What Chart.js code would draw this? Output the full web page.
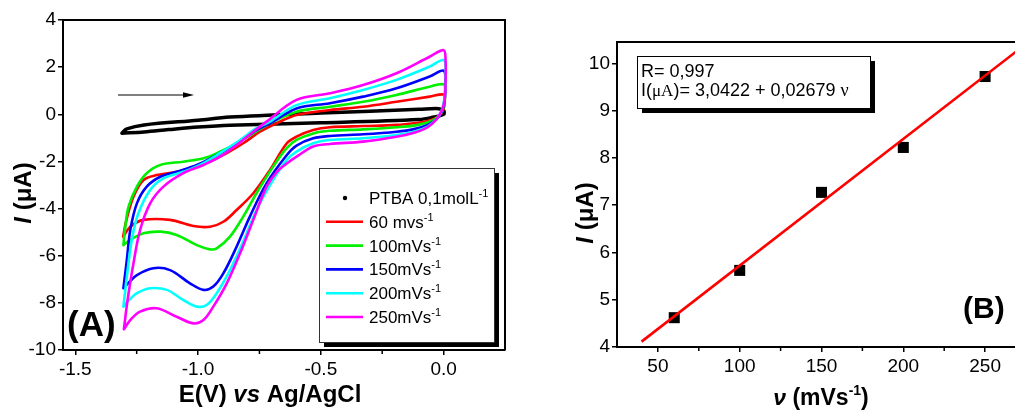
<!DOCTYPE html>
<html>
<head>
<meta charset="utf-8">
<title>PTBA voltammetry</title>
<script src="https://cdn.jsdelivr.net/npm/chart.js@4.4.1/dist/chart.umd.min.js"></script>
<style>
  html, body { margin: 0; padding: 0; background: #fff; }
  #wrap { position: relative; width: 1015px; height: 410px; overflow: hidden; background: #fff; }
  canvas { position: absolute; top: 0; }
  #cvA { left: 0; }
  #cvB { left: 540px; }
</style>
</head>
<body>
<div id="wrap">
  <canvas id="cvA" width="540" height="410" style="width:540px;height:410px"></canvas>
  <canvas id="cvB" width="500" height="410" style="width:500px;height:410px"></canvas>
</div>
<script>
// ---------- Panel A: cyclic voltammograms, points [E (V vs Ag/AgCl), I (uA)] around each closed loop
const cvBlank = [[-1.31,-0.80],[-1.29,-0.62],[-1.22,-0.45],[-1.0,-0.25],[-0.87,-0.12],[-0.5,0.05],[-0.1,0.21],[-0.02,0.24],
  [0.0,0.16],[0.0,0.0],[-0.05,-0.14],[-0.1,-0.22],[-0.5,-0.36],[-0.87,-0.46],[-1.0,-0.54],[-1.12,-0.65],[-1.22,-0.75],[-1.31,-0.80]];
const cv60 = [[-1.305,-5.19],[-1.292,-4.50],[-1.263,-3.50],[-1.222,-2.79],[-1.168,-2.58],[-1.087,-2.44],[-1.005,-2.22],[-0.951,-2.01],
  [-0.883,-1.65],[-0.816,-1.23],[-0.748,-0.74],[-0.680,-0.38],[-0.599,-0.03],[-0.463,0.18],[-0.328,0.32],[-0.192,0.53],[-0.057,0.75],[0.0,0.84],
  [0.005,0.62],[0.002,0.30],[-0.010,0.02],[-0.035,-0.18],[-0.070,-0.30],[-0.120,-0.38],[-0.192,-0.45],[-0.328,-0.50],[-0.463,-0.55],[-0.531,-0.67],
  [-0.599,-0.95],[-0.640,-1.25],[-0.707,-2.36],[-0.775,-3.35],[-0.843,-4.06],[-0.897,-4.56],[-0.951,-4.77],[-1.019,-4.74],[-1.114,-4.48],
  [-1.222,-4.48],[-1.276,-4.77],[-1.305,-5.19]];
const cv100 = [[-1.304,-5.55],[-1.298,-4.91],[-1.283,-3.92],[-1.249,-3.07],[-1.209,-2.50],[-1.154,-2.15],[-1.060,-2.01],[-0.978,-1.87],
  [-0.911,-1.59],[-0.843,-1.23],[-0.775,-0.81],[-0.707,-0.38],[-0.599,0.11],[-0.463,0.32],[-0.328,0.53],[-0.192,0.82],[-0.057,1.17],[0.0,1.27],
  [0.006,0.95],[0.003,0.45],[-0.010,0.05],[-0.035,-0.20],[-0.070,-0.36],[-0.120,-0.48],[-0.192,-0.55],[-0.328,-0.64],[-0.463,-0.70],[-0.531,-0.81],
  [-0.599,-1.09],[-0.640,-1.45],[-0.694,-2.22],[-0.762,-3.35],[-0.816,-4.34],[-0.870,-5.19],[-0.924,-5.69],[-0.951,-5.73],[-1.005,-5.55],
  [-1.087,-5.12],[-1.154,-4.98],[-1.222,-5.05],[-1.276,-5.33],[-1.304,-5.55]];
const cv150 = [[-1.304,-7.38],[-1.290,-6.18],[-1.276,-4.91],[-1.249,-3.78],[-1.209,-3.07],[-1.154,-2.65],[-1.087,-2.44],[-1.005,-2.15],
  [-0.924,-1.73],[-0.843,-1.23],[-0.762,-0.67],[-0.707,-0.38],[-0.599,0.25],[-0.463,0.47],[-0.328,0.75],[-0.192,1.10],[-0.057,1.60],[0.0,1.85],
  [0.007,1.35],[0.004,0.60],[-0.008,0.10],[-0.030,-0.22],[-0.065,-0.45],[-0.120,-0.63],[-0.192,-0.74],[-0.328,-0.85],[-0.463,-0.92],[-0.531,-1.02],
  [-0.599,-1.33],[-0.640,-1.75],[-0.721,-2.93],[-0.789,-4.34],[-0.843,-5.62],[-0.897,-6.75],[-0.938,-7.31],[-0.978,-7.45],[-1.033,-7.17],
  [-1.114,-6.61],[-1.182,-6.53],[-1.249,-6.82],[-1.285,-7.17],[-1.304,-7.38]];
const cv200 = [[-1.304,-8.16],[-1.290,-6.89],[-1.270,-5.33],[-1.243,-4.20],[-1.195,-3.21],[-1.141,-2.72],[-1.060,-2.44],[-0.992,-2.15],
  [-0.911,-1.65],[-0.829,-1.09],[-0.762,-0.59],[-0.707,-0.31],[-0.599,0.39],[-0.463,0.68],[-0.328,1.03],[-0.192,1.46],[-0.057,2.02],[0.0,2.30],
  [0.008,1.80],[0.005,0.80],[-0.008,0.15],[-0.030,-0.22],[-0.065,-0.52],[-0.120,-0.74],[-0.192,-0.88],[-0.328,-1.02],[-0.463,-1.09],[-0.531,-1.23],
  [-0.599,-1.58],[-0.640,-1.95],[-0.707,-3.00],[-0.762,-4.06],[-0.816,-5.40],[-0.870,-6.61],[-0.924,-7.59],[-0.965,-8.09],[-1.005,-8.16],
  [-1.060,-7.88],[-1.127,-7.45],[-1.195,-7.38],[-1.249,-7.59],[-1.287,-7.95],[-1.304,-8.16]];
const cv250 = [[-1.302,-9.12],[-1.287,-7.88],[-1.263,-6.32],[-1.236,-4.91],[-1.195,-3.78],[-1.141,-3.07],[-1.060,-2.50],[-0.978,-2.15],
  [-0.911,-1.80],[-0.843,-1.30],[-0.775,-0.74],[-0.721,-0.31],[-0.599,0.61],[-0.463,0.89],[-0.328,1.24],[-0.192,1.74],[-0.057,2.44],[0.0,2.72],
  [0.008,2.30],[0.008,1.40],[0.004,0.60],[-0.008,0.15],[-0.030,-0.22],[-0.065,-0.55],[-0.120,-0.78],[-0.192,-0.95],[-0.328,-1.16],[-0.463,-1.26],
  [-0.531,-1.37],[-0.599,-1.80],[-0.640,-2.10],[-0.680,-2.45],[-0.721,-3.07],[-0.775,-4.48],[-0.829,-5.90],[-0.883,-7.17],[-0.938,-8.16],
  [-0.978,-8.73],[-1.019,-8.87],[-1.087,-8.59],[-1.168,-8.23],[-1.236,-8.37],[-1.276,-8.73],[-1.302,-9.12]];

const cvSeries = [cvBlank, cv60, cv100, cv150, cv200, cv250];
const cvNames = ['PTBA 0,1molL', '60 mvs', '100mVs', '150mVs', '200mVs', '250mVs'];
const cvUnitSup = '-1';
const cvColors = ['#000000', '#ff0000', '#00f000', '#0000ff', '#00ffff', '#ff00ff'];
const axTicks = [-1.5, -1.0, -0.5, 0.0];
const axTickLabels = ['-1.5', '-1.0', '-0.5', '0.0'];
const axMinor = [-1.25, -0.75, -0.25];
const ayTicks = [4, 2, 0, -2, -4, -6, -8, -10];

// ---------- Panel B: peak current versus scan rate with linear fit
const scanRates = [60, 100, 150, 200, 250];
const peakCurrents = [4.62, 5.62, 7.27, 8.22, 9.72];
const fitR = 0.997;
const fitIntercept = 3.0422;
const fitSlope = 0.02679;
const fitSpan = [40, 275];
const bxTicks = [50, 100, 150, 200, 250];
const bxMinor = [75, 125, 175, 225];
const byTicks = [4, 5, 6, 7, 8, 9, 10];

const SANS = '"Liberation Sans", Arial, sans-serif';
const SERIF = '"Liberation Serif", "Times New Roman", serif';
Chart.defaults.font.family = SANS;
Chart.defaults.color = '#000';

// draw a run of differently styled text pieces on one baseline
function drawRich(ctx, parts, x, y, align) {
  let w = 0;
  for (const p of parts) { ctx.font = p.font; w += ctx.measureText(p.text).width; }
  let cx = align === 'center' ? x - w / 2 : x;
  ctx.textAlign = 'left';
  for (const p of parts) {
    ctx.font = p.font;
    ctx.fillText(p.text, cx, y + (p.dy || 0));
    cx += ctx.measureText(p.text).width;
  }
}
function drawRotated(ctx, parts, cx, cy) {
  ctx.save();
  ctx.translate(cx, cy);
  ctx.rotate(-Math.PI / 2);
  ctx.textBaseline = 'middle';
  drawRich(ctx, parts, 0, 0, 'center');
  ctx.restore();
}
function comma(v, d) { return v.toFixed(d).replace('.', ','); }

function scaleBase(ticks, labels, size, isX) {
  return {
    type: 'linear',
    afterBuildTicks: s => { s.ticks = ticks.map(v => ({ value: v })); },
    afterFit: s => {
      if (isX) s.height = size; else s.width = size;
      s.paddingTop = 0; s.paddingBottom = 0; s.paddingLeft = 0; s.paddingRight = 0;
    },
    ticks: {
      autoSkip: false, maxRotation: 0, minRotation: 0,
      padding: isX ? 3 : 2,
      font: { family: SANS, size: 19 },
      color: '#000',
      callback: (v, i) => labels ? labels[i] : String(ticks[i])
    },
    grid: { drawOnChartArea: false, drawTicks: true, tickLength: 5, color: '#000', lineWidth: 1.5 },
    border: { display: true, color: '#000', width: 2 }
  };
}

// ---------- Panel A decorations: frame, minor ticks, titles, arrow, legend
const panelADeco = {
  id: 'panelADeco',
  afterDraw(chart) {
    const { ctx, chartArea: ca, scales: { x } } = chart;
    ctx.save();
    ctx.strokeStyle = '#000';
    ctx.lineWidth = 2;
    ctx.beginPath();
    ctx.moveTo(ca.left, ca.top); ctx.lineTo(ca.right, ca.top); ctx.lineTo(ca.right, ca.bottom);
    ctx.stroke();
    ctx.lineWidth = 1.5;
    for (const v of axMinor) {
      const px = x.getPixelForValue(v);
      ctx.beginPath(); ctx.moveTo(px, ca.bottom + 1); ctx.lineTo(px, ca.bottom + 4); ctx.stroke();
    }
    ctx.fillStyle = '#000';
    ctx.textBaseline = 'alphabetic';
    drawRich(ctx, [
      { text: 'E(V) ', font: 'bold 24px ' + SANS },
      { text: 'vs', font: 'italic bold 24px ' + SANS },
      { text: ' Ag/AgCl', font: 'bold 24px ' + SANS }
    ], 270, 402, 'center');
    drawRotated(ctx, [
      { text: 'I', font: 'italic bold 24px ' + SANS },
      { text: ' (\u03bcA)', font: 'bold 24px ' + SANS }
    ], 24, 193);
    ctx.textBaseline = 'alphabetic';
    drawRich(ctx, [{ text: '(A)', font: 'bold 35px ' + SANS }], 67, 336, 'left');

    // scan direction arrow
    ctx.lineWidth = 1.2;
    ctx.beginPath(); ctx.moveTo(118, 95); ctx.lineTo(186, 95); ctx.stroke();
    ctx.beginPath(); ctx.moveTo(194, 95); ctx.lineTo(183, 92.3); ctx.lineTo(183, 97.7); ctx.closePath(); ctx.fill();

    // legend box with drop shadow
    const L = { x: 319, y: 168, w: 175, h: 174 };
    ctx.fillStyle = '#000';
    ctx.fillRect(L.x + 5, L.y + 5, L.w, L.h);
    ctx.fillStyle = '#fff';
    ctx.fillRect(L.x, L.y, L.w, L.h);
    ctx.strokeStyle = '#333';
    ctx.lineWidth = 1;
    ctx.strokeRect(L.x + 0.5, L.y + 0.5, L.w, L.h);
    cvNames.forEach((name, k) => {
      const ry = 198 + k * 23.8;
      if (k === 0) {
        ctx.fillStyle = '#000';
        ctx.beginPath(); ctx.arc(345, ry, 2.2, 0, Math.PI * 2); ctx.fill();
      } else {
        ctx.strokeStyle = cvColors[k];
        ctx.lineWidth = 2.6;
        ctx.beginPath(); ctx.moveTo(326, ry); ctx.lineTo(363, ry); ctx.stroke();
      }
      ctx.fillStyle = '#000';
      drawRich(ctx, [
        { text: name, font: '17px ' + SANS },
        { text: cvUnitSup, font: '11px ' + SANS, dy: -7 }
      ], 369, ry + 6, 'left');
    });
    ctx.restore();
  }
};

// ---------- Panel B decorations: frame, minor ticks, titles, fit box
const panelBDeco = {
  id: 'panelBDeco',
  afterDraw(chart) {
    const { ctx, chartArea: ca, scales: { x } } = chart;
    ctx.save();
    ctx.strokeStyle = '#000';
    ctx.lineWidth = 2;
    ctx.beginPath();
    ctx.moveTo(ca.left, ca.top); ctx.lineTo(ca.right, ca.top); ctx.lineTo(ca.right, ca.bottom);
    ctx.stroke();
    ctx.lineWidth = 1.5;
    for (const v of bxMinor) {
      const px = x.getPixelForValue(v);
      ctx.beginPath(); ctx.moveTo(px, ca.bottom + 1); ctx.lineTo(px, ca.bottom + 4); ctx.stroke();
    }
    ctx.fillStyle = '#000';
    ctx.textBaseline = 'alphabetic';
    drawRich(ctx, [
      { text: '\u03bd', font: 'italic bold 23px ' + SANS },
      { text: ' (mVs', font: 'bold 23px ' + SANS },
      { text: '-1', font: 'bold 14px ' + SANS, dy: -10 },
      { text: ')', font: 'bold 23px ' + SANS }
    ], 281, 405, 'center');
    drawRotated(ctx, [
      { text: 'I', font: 'italic bold 24px ' + SANS },
      { text: ' (\u03bcA)', font: 'bold 24px ' + SANS }
    ], 46, 213);
    ctx.textBaseline = 'alphabetic';
    drawRich(ctx, [{ text: '(B)', font: 'bold 30px ' + SANS }], 423, 318, 'left');

    // regression box with drop shadow
    const T = { x: 97, y: 56, w: 233, h: 52 };
    ctx.fillStyle = '#000';
    ctx.fillRect(T.x + 5, T.y + 5, T.w, T.h);
    ctx.fillStyle = '#fff';
    ctx.fillRect(T.x, T.y, T.w, T.h);
    ctx.strokeStyle = '#000';
    ctx.lineWidth = 1;
    ctx.strokeRect(T.x + 0.5, T.y + 0.5, T.w, T.h);
    ctx.fillStyle = '#000';
    drawRich(ctx, [{ text: 'R= ' + comma(fitR, 3), font: '18px ' + SANS }], T.x + 4, 77, 'left');
    drawRich(ctx, [
      { text: 'I(', font: '18px ' + SANS },
      { text: '\u03bcA', font: '17px ' + SERIF },
      { text: ')= ' + comma(fitIntercept, 4) + ' + ' + comma(fitSlope, 5) + ' ', font: '18px ' + SANS },
      { text: '\u03bd', font: '18px ' + SERIF }
    ], T.x + 4, 96, 'left');
    ctx.restore();
  }
};

// ---------- Chart A
const xA = Object.assign(scaleBase(axTicks, axTickLabels, 60, true), { min: -1.55, max: 0.25 });
const yA = Object.assign(scaleBase(ayTicks, null, 63, false), { min: -10, max: 4 });
new Chart(document.getElementById('cvA'), {
  type: 'scatter',
  data: {
    datasets: cvSeries.map((pts, k) => ({
      label: cvNames[k],
      data: pts.map(p => ({ x: p[0], y: p[1] })),
      showLine: true,
      borderColor: cvColors[k],
      backgroundColor: cvColors[k],
      borderWidth: k === 0 ? 3.5 : 2.6,
      pointRadius: 0,
      tension: 0.35,
      order: cvSeries.length - k
    }))
  },
  options: {
    responsive: false, animation: false, events: [],
    layout: { padding: { left: 0, top: 20, right: 35, bottom: 0 } },
    plugins: { legend: { display: false }, tooltip: { enabled: false } },
    elements: { line: { borderJoinStyle: 'round', borderCapStyle: 'round' } },
    scales: { x: xA, y: yA }
  },
  plugins: [panelADeco]
});

// ---------- Chart B
const xB = Object.assign(scaleBase(bxTicks, null, 63, true), { min: 25, max: 275 });
const yB = Object.assign(scaleBase(byTicks, null, 77, false), { min: 4, max: 10.45 });
new Chart(document.getElementById('cvB'), {
  type: 'scatter',
  data: {
    datasets: [
      {
        label: 'peak current',
        data: scanRates.map((v, k) => ({ x: v, y: peakCurrents[k] })),
        pointStyle: 'rect',
        pointRadius: 7.8,
        backgroundColor: '#000',
        borderWidth: 0,
        order: 2
      },
      {
        label: 'linear fit',
        data: fitSpan.map(v => ({ x: v, y: fitIntercept + fitSlope * v })),
        showLine: true,
        borderColor: '#ff0000',
        borderWidth: 2.6,
        pointRadius: 0,
        order: 1
      }
    ]
  },
  options: {
    responsive: false, animation: false, events: [],
    layout: { padding: { left: 0, top: 42, right: 14, bottom: 0 } },
    plugins: { legend: { display: false }, tooltip: { enabled: false } },
    scales: { x: xB, y: yB }
  },
  plugins: [panelBDeco]
});
</script>
</body>
</html>
